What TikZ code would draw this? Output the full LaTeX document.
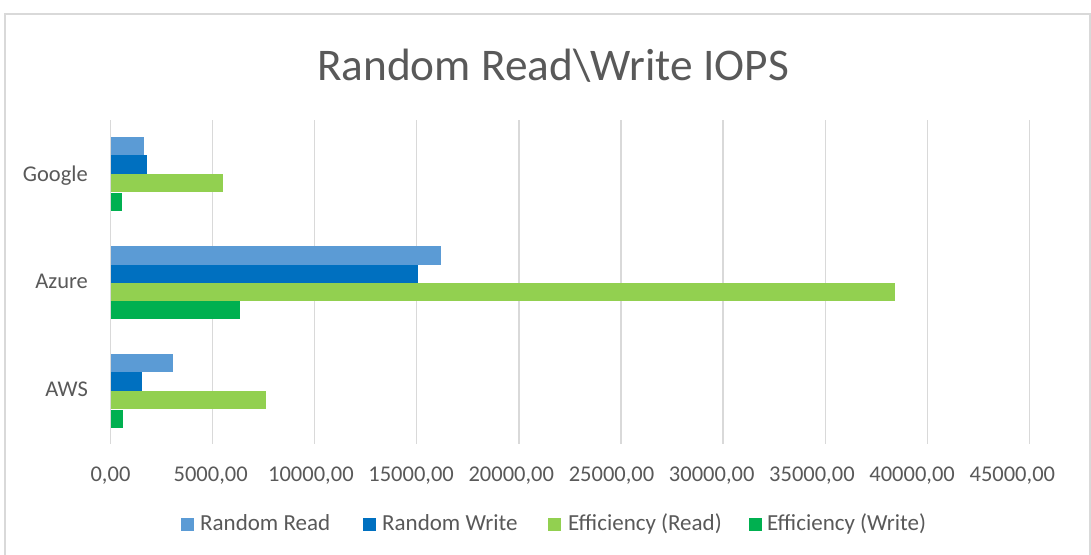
\documentclass[tikz,border=0pt]{standalone}
\usepackage{fontspec}
\setmainfont{Carlito}
\definecolor{rr}{HTML}{5B9BD5}
\definecolor{rw}{HTML}{0070C0}
\definecolor{er}{HTML}{92D050}
\definecolor{ew}{HTML}{00B050}
\definecolor{grid}{HTML}{D9D9D9}
\definecolor{txt}{HTML}{595959}
\begin{document}
\begin{tikzpicture}[x=1pt,y=-1pt,
  gridline/.style={draw=grid,line width=1.3pt},
  frame/.style={draw=grid,line width=1.5pt},
  ticklab/.style={anchor=base,text=txt,font=\fontsize{22.5}{24}\selectfont,inner sep=0pt},
  catlab/.style={anchor=base east,text=txt,font=\fontsize{22.5}{24}\selectfont,inner sep=0pt},
  leglab/.style={anchor=base west,text=txt,font=\fontsize{23}{25}\selectfont,inner sep=0pt},
  titlelab/.style={anchor=base,text=txt,font=\fontsize{45.3}{48}\selectfont,inner sep=0pt},
  legsq/.style={minimum size=13pt,inner sep=0pt,anchor=center}]
\useasboundingbox[fill=white] (0,0) rectangle (1091,554);
% frame
\draw[frame] (5,560) -- (5,14) -- (1090,14) -- (1090,560);
% title
\node[titlelab] (title) at (553,80) {Random Read\textbackslash Write IOPS};
% gridlines and tick labels
\foreach \i/\lab in {0/{0,00},1/{5000,00},2/{10000,00},3/{15000,00},4/{20000,00},5/{25000,00},6/{30000,00},7/{35000,00},8/{40000,00},9/{45000,00}}{
  \draw[gridline] ({110.5+102.1*\i},120) -- ({110.5+102.1*\i},444);
  \node[ticklab] (t\i) at ({110.5+100.2*\i},481) {\lab};
}
% bars: x per 1000 = 20.42
\def\bx#1{110.5+20.42*#1}
% Google
\fill[rr] (110.5,136.5) rectangle ({\bx{1.64}},155);
\fill[rw] (110.5,155) rectangle ({\bx{1.77}},174);
\fill[er] (110.5,174) rectangle ({\bx{5.49}},192);
\fill[ew] (110.5,192.5) rectangle ({\bx{0.55}},211);
% Azure
\fill[rr] (110.5,246) rectangle ({\bx{16.19}},264.5);
\fill[rw] (110.5,264.5) rectangle ({\bx{15.04}},283);
\fill[er] (110.5,283) rectangle ({\bx{38.40}},301);
\fill[ew] (110.5,301) rectangle ({\bx{6.34}},319);
% AWS
\fill[rr] (110.5,353.5) rectangle ({\bx{3.08}},372);
\fill[rw] (110.5,372) rectangle ({\bx{1.54}},391);
\fill[er] (110.5,391) rectangle ({\bx{7.60}},409);
\fill[ew] (110.5,409.5) rectangle ({\bx{0.60}},428);
% category labels
\node[catlab] (google) at (88,181) {Google};
\node[catlab] (azure) at (88,288) {Azure};
\node[catlab] (aws) at (88,396) {AWS};
% legend
\node[legsq,fill=rr] (l1) at (187.5,524) {};
\node[leglab] (l1t) at (200,530) {Random Read};
\node[legsq,fill=rw] (l2) at (369.5,524) {};
\node[leglab] (l2t) at (382,530) {Random Write};
\node[legsq,fill=er] (l3) at (554,524) {};
\node[leglab] (l3t) at (568,530) {Efficiency (Read)};
\node[legsq,fill=ew] (l4) at (755.5,524) {};
\node[leglab] (l4t) at (767,530) {Efficiency (Write)};
\end{tikzpicture}
\end{document}
